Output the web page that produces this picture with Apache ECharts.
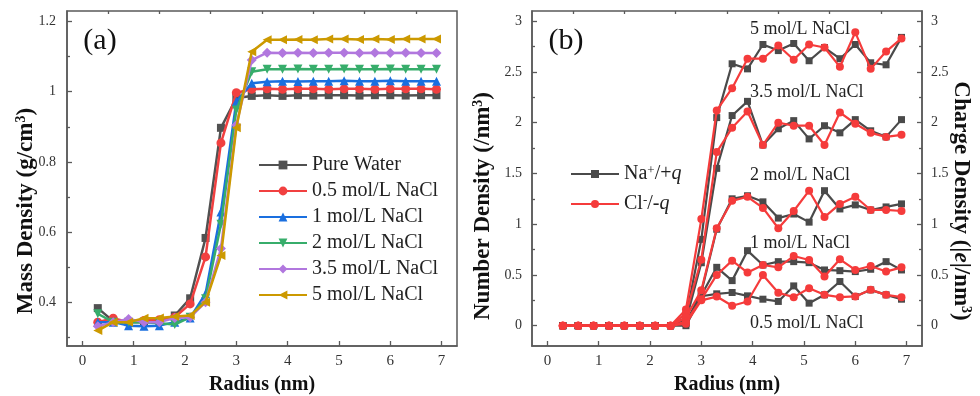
<!DOCTYPE html>
<html>
<head>
<meta charset="utf-8">
<script src="https://cdn.jsdelivr.net/npm/echarts@6/dist/echarts.min.js"></script>
<style>html,body{margin:0;padding:0;background:#fff}#c{width:980px;height:396px}</style>
</head>
<body>
<div id="c"></div>
<script>
// ---------- data ----------
const radius = [0.3,0.6,0.9,1.2,1.5,1.8,2.1,2.4,2.7,3.0,3.3,3.6,3.9,4.2,4.5,4.8,5.1,5.4,5.7,6.0,6.3,6.6,6.9];

// (a) mass density, g/cm3
const massNames = ['Pure Water','0.5 mol/L NaCl','1 mol/L NaCl','2 mol/L NaCl','3.5 mol/L NaCl','5 mol/L NaCl'];
const massPure = [0.383,0.346,0.343,0.343,0.345,0.362,0.411,0.583,0.897,0.982,0.988,0.990,0.988,0.990,0.989,0.990,0.990,0.989,0.990,0.990,0.989,0.990,0.990];
const mass05   = [0.343,0.354,0.343,0.348,0.350,0.357,0.395,0.529,0.854,0.997,1.007,1.008,1.007,1.008,1.008,1.007,1.008,1.008,1.007,1.008,1.008,1.008,1.007];
const mass1    = [0.343,0.343,0.333,0.331,0.333,0.343,0.355,0.424,0.657,0.972,1.024,1.028,1.030,1.029,1.030,1.030,1.031,1.030,1.030,1.031,1.030,1.030,1.030];
const mass2    = [0.367,0.343,0.343,0.343,0.340,0.336,0.357,0.410,0.622,0.948,1.057,1.064,1.064,1.065,1.064,1.064,1.065,1.064,1.064,1.065,1.064,1.064,1.064];
const mass35   = [0.331,0.343,0.352,0.343,0.343,0.355,0.357,0.400,0.553,0.905,1.090,1.111,1.110,1.111,1.110,1.111,1.111,1.110,1.111,1.110,1.111,1.110,1.110];
const mass5    = [0.319,0.343,0.343,0.354,0.355,0.359,0.362,0.400,0.533,0.897,1.114,1.148,1.148,1.149,1.148,1.150,1.150,1.149,1.150,1.149,1.150,1.150,1.150];

// (b) number density, /nm3  (Na+ and Cl- per concentration)
const na5  = [0,0,0,0,0,0,0,0,0.08,0.85,2.05,2.58,2.53,2.77,2.71,2.78,2.61,2.74,2.63,2.77,2.59,2.57,2.84];
const cl5  = [0,0,0,0,0,0,0,0,0.16,1.05,2.12,2.34,2.63,2.63,2.76,2.62,2.77,2.74,2.55,2.89,2.53,2.70,2.83];
const na35 = [0,0,0,0,0,0,0,0,0.05,0.62,1.55,2.07,2.21,1.78,1.94,2.02,1.84,1.97,1.90,2.03,1.92,1.86,2.03];
const cl35 = [0,0,0,0,0,0,0,0,0.12,0.65,1.71,1.95,2.11,1.78,2.00,1.97,1.97,1.78,2.10,1.99,1.90,1.86,1.88];
const na2  = [0,0,0,0,0,0,0,0,0.03,0.33,0.95,1.25,1.28,1.22,1.06,1.10,1.02,1.33,1.15,1.19,1.14,1.17,1.20];
const cl2  = [0,0,0,0,0,0,0,0,0.08,0.35,0.96,1.23,1.27,1.16,0.96,1.13,1.33,1.07,1.20,1.27,1.14,1.14,1.13];
const na1  = [0,0,0,0,0,0,0,0,0.02,0.30,0.575,0.444,0.739,0.598,0.631,0.631,0.621,0.549,0.542,0.533,0.556,0.631,0.549];
const cl1  = [0,0,0,0,0,0,0,0,0.04,0.26,0.50,0.641,0.523,0.598,0.575,0.686,0.647,0.484,0.654,0.549,0.588,0.533,0.575];
const na05 = [0,0,0,0,0,0,0,0,0.00,0.29,0.314,0.327,0.294,0.261,0.239,0.392,0.222,0.304,0.435,0.288,0.353,0.304,0.261];
const cl05 = [0,0,0,0,0,0,0,0,0.02,0.25,0.287,0.196,0.239,0.50,0.324,0.281,0.369,0.304,0.281,0.288,0.353,0.304,0.281];
const concLabels = ['5 mol/L NaCl','3.5 mol/L NaCl','2 mol/L NaCl','1 mol/L NaCl','0.5 mol/L NaCl'];

// ticks
const xMajor = [0,1,2,3,4,5,6,7];
const xMinor = [0.5,1.5,2.5,3.5,4.5,5.5,6.5];
const yaMajor = [0.4,0.6,0.8,1,1.2];
const yaMinor = [0.3,0.5,0.7,0.9,1.1];
const ybMajor = [0,0.5,1,1.5,2,2.5,3];
const ybMinor = [0.25,0.75,1.25,1.75,2.25,2.75];

// ---------- styling ----------
const serif = 'Liberation Serif';
const axC = '#5a5a5a';
const massColors = ['#515151','#F14040','#1A6FDF','#37AD6B','#B177DE','#CC9900'];
const massSymbols = ['rect','circle','triangle','path://M0,0L2,0L1,1.73Z','diamond','path://M0,1L1.73,0L1.73,2Z'];
const massSizes = [8,9,9,9,10,9];
const naColor = '#4a4a4a', clColor = '#F53B3B';

function pts(arr){ return radius.map((x,i)=>[x,arr[i]]); }

function xAx(){
  return [{
    type:'value', min:-0.3, max:7.3,
    axisLine:{show:true,onZero:false,lineStyle:{color:axC,width:1.5}},
    axisTick:{show:true,inside:true,length:5,customValues:xMajor,lineStyle:{color:axC,width:1.3}},
    axisLabel:{customValues:xMajor,fontFamily:serif,fontSize:15,color:'#333',margin:8},
    splitLine:{show:false},
    name:'Radius (nm)', nameLocation:'middle', nameGap:29,
    nameTextStyle:{fontFamily:serif,fontSize:20,fontWeight:'bold',color:'#111'}
  },{
    type:'value', min:-0.3, max:7.3,
    axisLine:{show:false,onZero:false},
    axisTick:{show:true,inside:true,length:3,customValues:xMinor,lineStyle:{color:axC,width:1.3}},
    axisLabel:{show:false}, splitLine:{show:false}
  }];
}
function yAx(grid, min, max, major, minor, pos, margin){
  return [{
    gridIndex:grid, type:'value', min:min, max:max, position:pos,
    axisLine:{show:true,onZero:false,lineStyle:{color:axC,width:1.5}},
    axisTick:{show:true,inside:true,length:5,customValues:major,lineStyle:{color:axC,width:1.3}},
    axisLabel:{customValues:major,fontFamily:serif,fontSize:14,color:'#333',margin:margin},
    splitLine:{show:false}
  },{
    gridIndex:grid, type:'value', min:min, max:max, position:pos,
    axisLine:{show:false,onZero:false},
    axisTick:{show:true,inside:true,length:3,customValues:minor,lineStyle:{color:axC,width:1.3}},
    axisLabel:{show:false}, splitLine:{show:false}
  }];
}

const series = [];
const massData = [massPure,mass05,mass1,mass2,mass35,mass5];
massData.forEach((d,k)=>{
  series.push({type:'line',name:massNames[k],data:pts(d),xAxisIndex:0,yAxisIndex:0,
    symbol:massSymbols[k],symbolSize:massSizes[k],
    lineStyle:{color:massColors[k],width:2.5},itemStyle:{color:massColors[k]},z:2+k});
});
const naSets = [na5,na35,na2,na1,na05];
const clSets = [cl5,cl35,cl2,cl1,cl05];
naSets.forEach(d=>{
  series.push({type:'line',name:'Na',data:pts(d),xAxisIndex:2,yAxisIndex:2,
    symbol:'rect',symbolSize:7,lineStyle:{color:naColor,width:2.2},itemStyle:{color:naColor},z:2});
});
clSets.forEach(d=>{
  series.push({type:'line',name:'Cl',data:pts(d),xAxisIndex:2,yAxisIndex:2,
    symbol:'circle',symbolSize:8,lineStyle:{color:clColor,width:2.2},itemStyle:{color:clColor},z:3});
});

const annoY = [29,92,175,243,323];
const titleRich = {b:{fontFamily:serif,fontSize:23,fontWeight:'bold'},
                   i:{fontFamily:serif,fontSize:23,fontWeight:'bold',fontStyle:'italic'},
                   s:{fontFamily:serif,fontSize:14,fontWeight:'bold',verticalAlign:'top'}};
const graphics = [
  {type:'text',x:100,y:41,style:{text:'(a)',fontFamily:serif,fontSize:30,fill:'#111',align:'center',verticalAlign:'middle'}},
  {type:'text',x:566,y:41,style:{text:'(b)',fontFamily:serif,fontSize:30,fill:'#111',align:'center',verticalAlign:'middle'}},
  {type:'text',x:26,y:211,rotation:Math.PI/2,style:{
    text:'{b|Mass Density (g/cm}{s|3}{b|)}',fill:'#111',align:'center',verticalAlign:'middle',rich:titleRich}},
  {type:'text',x:483,y:206,rotation:Math.PI/2,style:{
    text:'{b|Number Density (/nm}{s|3}{b|)}',fill:'#111',align:'center',verticalAlign:'middle',rich:titleRich}},
  {type:'text',x:961,y:201,rotation:-Math.PI/2,style:{
    text:'{b|Charge Density (|}{i|e}{b||/nm}{s|3}{b|)}',fill:'#111',align:'center',verticalAlign:'middle',rich:titleRich}}
];
concLabels.forEach((t,k)=>{
  graphics.push({type:'text',x:750,y:annoY[k],style:{text:t,fontFamily:serif,fontSize:18,fill:'#222',align:'left',verticalAlign:'middle'}});
});

const xAxes = [].concat(xAx(),xAx());
xAxes.forEach((a,i)=>{ a.gridIndex = i<2?0:1; });

const chart = echarts.init(document.getElementById('c'), null, {renderer:'canvas'});
chart.setOption({
  animation:false,
  backgroundColor:'#fff',
  grid:[
    {left:67,right:523,top:11,bottom:50,containLabel:false,outerBoundsMode:'none',show:true,borderColor:axC,borderWidth:1.5,backgroundColor:'transparent'},
    {left:532,right:58,top:11,bottom:50,containLabel:false,outerBoundsMode:'none',show:true,borderColor:axC,borderWidth:1.5,backgroundColor:'transparent'}
  ],
  xAxis:xAxes,
  yAxis:[].concat(
    yAx(0,0.275,1.23,yaMajor,yaMinor,'left',11),
    yAx(1,-0.2,3.1,ybMajor,ybMinor,'left',10),
    yAx(1,-0.2,3.1,ybMajor,ybMinor,'right',9)
  ),
  legend:[
    {data:massNames,orient:'vertical',left:253,top:150,itemWidth:48,itemHeight:11,itemGap:6,selectedMode:false,
     textStyle:{fontFamily:serif,fontSize:20,color:'#222'}},
    {data:['Na','Cl'],orient:'vertical',left:565,top:159,itemWidth:48,itemHeight:10,itemGap:10,selectedMode:false,
     formatter:n=>n==='Na'?'{t|Na}{s|+}{t|/+}{i|q}':'{t|Cl}{s|-}{t|/-}{i|q}',
     textStyle:{fontFamily:serif,fontSize:20,color:'#222',
       rich:{t:{fontFamily:serif,fontSize:20,color:'#222'},s:{fontFamily:serif,fontSize:13,color:'#222',verticalAlign:'top'},i:{fontFamily:serif,fontSize:20,color:'#222',fontStyle:'italic'}}}}
  ],
  series:series,
  graphic:graphics
});
</script>
</body>
</html>
